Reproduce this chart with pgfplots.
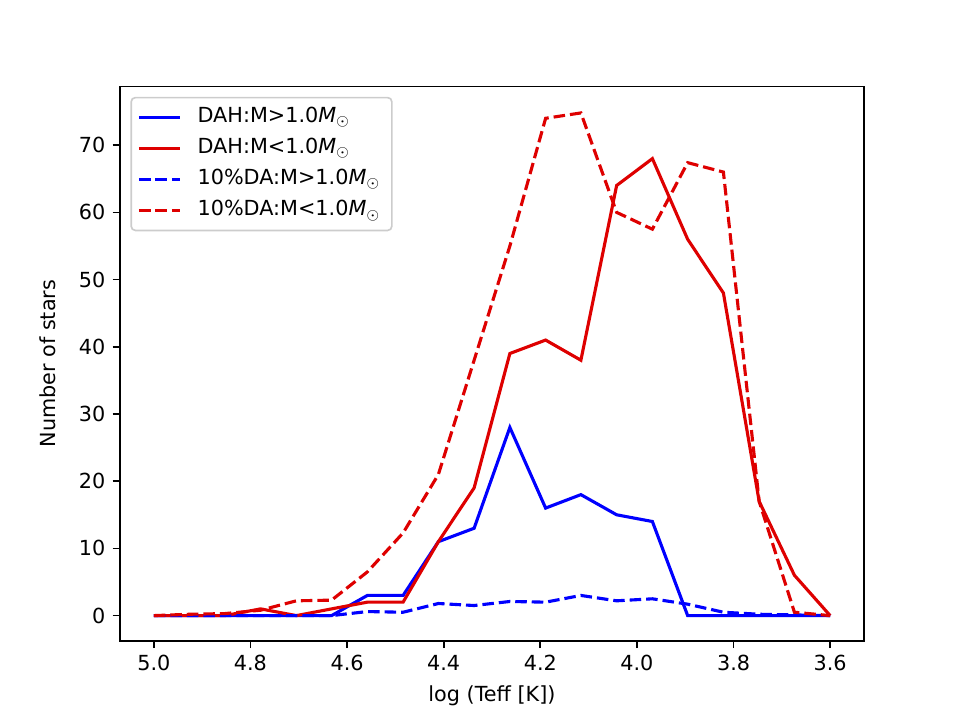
\documentclass[border=0pt]{standalone}
\usepackage{fontspec}
\setmainfont{DejaVu Sans}
\usepackage{pgfplots}
\pgfplotsset{compat=1.18}
\definecolor{mred}{RGB}{222,0,0}
\definecolor{mblue}{RGB}{0,0,255}
\newcommand{\msun}{\textit{M}$_{\odot}$}
\begin{document}
\begin{tikzpicture}
\path (0,0) rectangle (6.4in,4.8in);
\begin{axis}[
  at={(0.8in,0.528in)}, anchor=south west,
  scale only axis, width=4.96in, height=3.696in,
  x dir=reverse,
  xmin=3.53, xmax=5.07, ymin=-3.75, ymax=78.75,
  xtick={3.6,3.8,4.0,4.2,4.4,4.6,4.8,5.0},
  ytick={0,10,20,30,40,50,60,70},
  xticklabel style={/pgf/number format/.cd, fixed, fixed zerofill, precision=1},
  /pgf/number format/assume math mode=true,
  tick align=outside, major tick length=3.5pt,
  tick style={line width=0.8pt, black},
  axis line style={line width=0.8pt},
  xtick pos=bottom, ytick pos=left,
  tick label style={font=\fontsize{10}{12}\selectfont},
  label style={font=\fontsize{10}{12}\selectfont},
  xlabel={log (Teff [K])},
  ylabel={Number of stars},
  ylabel shift=4.5pt,
  legend cell align=left,
  legend style={at={(0,1)}, anchor=north west, xshift=5pt, yshift=-5pt,
    draw=black!20, line width=0.8pt, rounded corners=2pt,
    fill=white, fill opacity=0.8, text opacity=1,
    inner xsep=3pt, inner ysep=2pt, row sep=0pt,
    font=\fontsize{10}{12}\selectfont,
    nodes={inner sep=2.5pt, text height=7.5pt, text depth=2.5pt},
    /tikz/every odd column/.append style={column sep=5pt}},
  legend image code/.code={\draw[#1] (0pt,0pt) -- (20pt,0pt);},
]
\addplot[mblue, line width=1.5pt] coordinates {
(5.000,0)(4.926,0)(4.853,0)(4.779,0)(4.705,0)(4.632,0)(4.558,3)(4.484,3)(4.411,11)(4.337,13)
(4.263,28)(4.189,16)(4.116,18)(4.042,15)(3.968,14)(3.895,0)(3.821,0)(3.747,0)(3.674,0)(3.600,0)};
\addlegendentry{DAH:M>1.0\msun}
\addplot[mred, line width=1.5pt] coordinates {
(5.000,0)(4.926,0)(4.853,0)(4.779,1)(4.705,0)(4.632,1)(4.558,2)(4.484,2)(4.411,11)(4.337,19)
(4.263,39)(4.189,41)(4.116,38)(4.042,64)(3.968,68)(3.895,56)(3.821,48)(3.747,17)(3.674,6)(3.600,0)};
\addlegendentry{DAH:M<1.0\msun}
\addplot[mblue, line width=1.5pt, dash pattern=on 5.55pt off 2.4pt] coordinates {
(5.000,0)(4.926,0)(4.853,0)(4.779,0)(4.705,0)(4.632,0)(4.558,0.6)(4.484,0.5)(4.411,1.8)(4.337,1.5)
(4.263,2.1)(4.189,2.0)(4.116,3.0)(4.042,2.2)(3.968,2.5)(3.895,1.7)(3.821,0.5)(3.747,0.2)(3.674,0.1)(3.600,0)};
\addlegendentry{10\%DA:M>1.0\msun}
\addplot[mred, line width=1.5pt, dash pattern=on 5.55pt off 2.4pt] coordinates {
(5.000,0)(4.926,0.2)(4.853,0.3)(4.779,0.8)(4.705,2.2)(4.632,2.3)(4.558,6.5)(4.484,12.3)(4.411,21)(4.337,38)
(4.263,55)(4.189,74)(4.116,74.8)(4.042,60)(3.968,57.5)(3.895,67.4)(3.821,66)(3.747,17)(3.674,0.5)(3.600,0)};
\addlegendentry{10\%DA:M<1.0\msun}
\end{axis}
\end{tikzpicture}
\end{document}
